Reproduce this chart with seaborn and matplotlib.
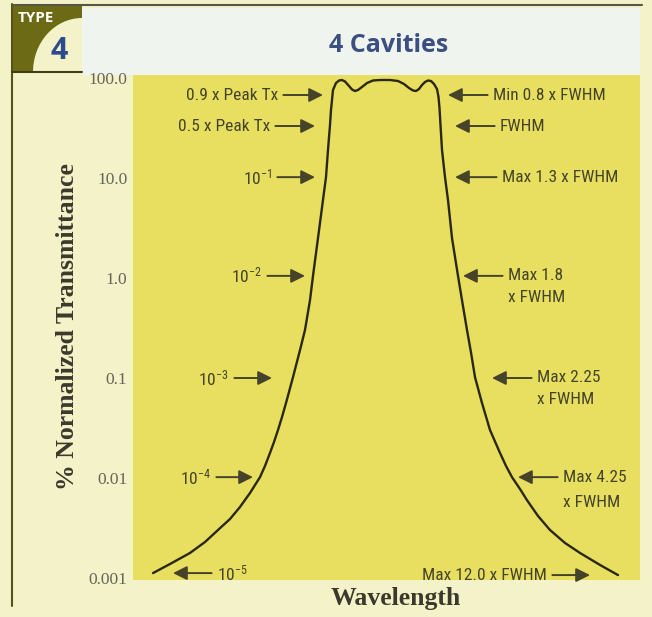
import matplotlib
matplotlib.use("Agg")
import matplotlib.pyplot as plt
import seaborn as sns
import pandas as pd
from matplotlib import font_manager as fm
from matplotlib.patches import Rectangle, Ellipse
from matplotlib.lines import Line2D

# ---------------- data ----------------
# relative wavelength (arbitrary units, 0 = band centre)
wavelength = [-232, -215, -195, -180, -167, -155, -145, -135, -125, -120, -115,
              -111, -107, -103, -99, -92, -85, -80, -75, -72, -67, -62, -59,
              -57, -55, -54, -53, -52, -49, -46, -43, -40, -36, -33, -30, -27,
              -23, -18, -12, -5, 5, 13, 19, 24, 28, 31, 34, 37, 40, 43, 46, 49,
              52, 53.5, 54.5, 55.5, 57, 60, 63, 67, 73, 77, 82, 86, 90, 97, 105,
              115, 121, 127, 135, 142, 153, 165, 180, 195, 215, 233]
# % normalized transmittance
transmittance = [0.00112, 0.00138, 0.00178, 0.00229, 0.00302, 0.00389, 0.00513,
                 0.00708, 0.0102, 0.0132, 0.0178, 0.0229, 0.0302, 0.0407,
                 0.0562, 0.102, 0.19, 0.302, 0.60, 1.05, 2.51, 6.03, 10.2, 19.1,
                 33.9, 47.9, 60.3, 75.9, 89.1, 94.4, 95.5, 92.3, 83.2, 76.7,
                 74.1, 75.9, 81.3, 89.1, 94.4, 95.5, 95.5, 93.3, 87.1, 79.4,
                 75.0, 74.1, 77.6, 85.1, 91.2, 94.4, 93.3, 87.1, 77.6, 64.6,
                 50.1, 33.9, 19.1, 10.2, 6.03, 2.51, 1.05, 0.60, 0.302, 0.18,
                 0.102, 0.0562, 0.0302, 0.0178, 0.0132, 0.0102, 0.00776,
                 0.0060, 0.00417, 0.00302, 0.00224, 0.00178, 0.00135, 0.00107]

ytick_values = [100, 10, 1, 0.1, 0.01, 0.001]
ytick_labels = ["100.0", "10.0", "1.0", "0.1", "0.01", "0.001"]

title_text = "4 Cavities"
type_text = "TYPE"
type_number = "4"
x_label = "Wavelength"
y_label = "% Normalized Transmittance"

# annotations: (label, text x, arrow tip x, y, second line)
left_notes = [
    ("0.9 x Peak Tx", -107, -62, 67.6, None),
    ("0.5 x Peak Tx", -115, -70, 33.1, None),
    (r"$\mathregular{10^{-1}}$", -113, -70, 10.2, None),
    (r"$\mathregular{10^{-2}}$", -123, -80, 1.05, None),
    (r"$\mathregular{10^{-3}}$", -156, -113, 0.1, None),
    (r"$\mathregular{10^{-4}}$", -174, -132, 0.0102, None),
    ("Max 12.0 x FWHM", 162, 205, 0.00107, None),
]
right_notes = [
    ("Min 0.8 x FWHM", 108, 63, 67.6, None),
    ("FWHM", 115, 70, 33.1, None),
    ("Max 1.3 x FWHM", 117, 70, 10.2, None),
    ("Max 1.8", 123, 78, 1.05, ("x FWHM", 0.631)),
    ("Max 2.25", 152, 107, 0.1, ("x FWHM", 0.0603)),
    ("Max 4.25", 178, 133, 0.0102, ("x FWHM", 0.00575)),
    (r"$\mathregular{10^{-5}}$", -168, -212, 0.00112, None),
]

# ---------------- style ----------------
sns.set_theme(style="white")
names = {f.name for f in fm.fontManager.ttflist}
NARROW = "Roboto"
for cand in ["Roboto Condensed", "Liberation Sans Narrow", "Open Sans Condensed"]:
    if cand in names:
        NARROW = cand
        break
NOTE_SIZE = 12.5 if NARROW != "Roboto" else 12
SERIF = "Liberation Serif"
plt.rcParams["font.family"] = [NARROW, "DejaVu Sans"]

BG = "#f4f2c8"
PLOT_BG = "#e8de60"
BAND = "#eff4ef"
OLIVE = "#6d6a16"
LINE = "#2a2810"
NOTE = "#45442a"
W, H = 652, 617


def fx(p):
    return p / W


def fy(p):
    return 1 - p / H


fig = plt.figure(figsize=(W / 100, H / 100), dpi=100, facecolor=BG)
ax = fig.add_axes([fx(133), fy(580), (640 - 133) / W, (580 - 75) / H])
ax.set_facecolor(PLOT_BG)

df = pd.DataFrame({"wavelength": wavelength, "transmittance": transmittance})
sns.lineplot(data=df, x="wavelength", y="transmittance", ax=ax, color=LINE,
             linewidth=1.7, sort=False, estimator=None)

ax.set_yscale("log")
ax.set_xlim(-252, 255)
ax.set_ylim(10 ** -3.02, 10 ** 2.03)
ax.set_yticks(ytick_values)
ax.set_yticklabels(ytick_labels)
ax.minorticks_off()
ax.set_xticks([])
ax.tick_params(axis="y", length=0, pad=4, labelsize=12.5, labelcolor="#66655a")
for lab in ax.get_yticklabels():
    lab.set_fontfamily(SERIF)
for s in ax.spines.values():
    s.set_visible(False)
ax.grid(False)

ax.set_xlabel(x_label, fontsize=18.5, fontfamily=SERIF, fontweight="bold",
              color="#3a392c")
ax.xaxis.set_label_coords(0.519, -0.013)
ax.set_ylabel(y_label, fontsize=18.5, fontfamily=SERIF, fontweight="bold",
              color="#3a392c")
ax.yaxis.set_label_coords(-0.106, 0.501)

ax.set_title(title_text, fontsize=18, fontfamily="Open Sans", fontweight="bold",
             color="#3b4f80", y=1.0455, pad=0, x=0.504)

arrow_kw = dict(arrowstyle="-|>,head_length=0.6,head_width=0.3", color=NOTE,
                lw=1.4, shrinkA=1.5, shrinkB=0, mutation_scale=14)
for label, tx, tip, y, extra in left_notes:
    ax.annotate(label, xy=(tip, y), xytext=(tx, y), ha="right", va="center",
                fontsize=NOTE_SIZE, color=NOTE, arrowprops=arrow_kw)
for label, tx, tip, y, extra in right_notes:
    ax.annotate(label, xy=(tip, y), xytext=(tx, y), ha="left", va="center",
                fontsize=NOTE_SIZE, color=NOTE, arrowprops=arrow_kw)
    if extra is not None:
        ax.text(tx, extra[1], extra[0], ha="left", va="center",
                fontsize=NOTE_SIZE, color=NOTE)

# ---------------- page decorations ----------------
fig.add_artist(Rectangle((fx(82), fy(75)), (640 - 82) / W, (75 - 8) / H,
                         transform=fig.transFigure, facecolor=BAND,
                         edgecolor="none", zorder=-2))
box = Rectangle((fx(12), fy(72)), (82 - 12) / W, (72 - 5) / H,
                transform=fig.transFigure, facecolor=OLIVE, edgecolor="none",
                zorder=-1)
fig.add_artist(box)
hole = Ellipse((fx(82), fy(72)), 2 * 49 / W, 2 * 54 / H,
               transform=fig.transFigure, facecolor=BG, edgecolor="none",
               zorder=-0.5)
fig.add_artist(hole)
hole.set_clip_path(box)
fig.add_artist(Line2D([fx(12), fx(642)], [fy(5), fy(5)],
                      transform=fig.transFigure, color="#56554a", lw=1.5))
fig.add_artist(Line2D([fx(12), fx(12)], [fy(4), fy(606)],
                      transform=fig.transFigure, color="#55541e", lw=1.5))
fig.add_artist(Line2D([fx(12), fx(82)], [fy(72), fy(72)],
                      transform=fig.transFigure, color="#3f3d12", lw=1.5))
fig.text(fx(18), fy(18), type_text, ha="left", va="center", fontsize=11,
         fontfamily="Open Sans", fontweight="bold", color="white")
fig.text(fx(59), fy(51), type_number, ha="center", va="center", fontsize=22,
         fontfamily="Open Sans", fontweight="bold", color="#2b4b8c")

fig.savefig("out.png", dpi=100, facecolor=BG)
